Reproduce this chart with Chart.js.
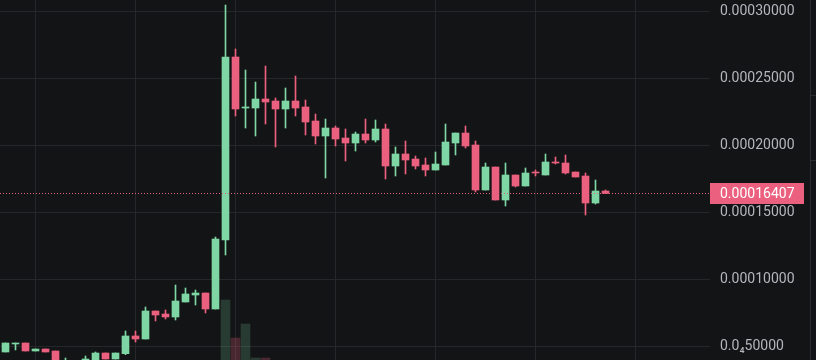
<!DOCTYPE html>
<html>
<head>
<meta charset="utf-8">
<script src="https://cdn.jsdelivr.net/npm/chart.js@4.4.1/dist/chart.umd.min.js"></script>
<style>
  html, body { margin: 0; padding: 0; background: #131416; }
  #wrap { width: 816px; height: 360px; position: relative; }
</style>
</head>
<body>
<div id="wrap"><canvas id="c" width="816" height="360"></canvas></div>
<script>
// Candle index (time slots)
const categories = [0,1,2,3,4,5,6,7,8,9,10,11,12,13,14,15,16,17,18,19,20,21,22,23,24,25,26,27,28,29,30,31,32,33,34,35,36,37,38,39,40,41,42,43,44,45,46,47,48,49,50,51,52,53,54,55,56,57,58,59,60];

const opens  = [45.75e-6,51.72e-6,52.46e-6,46.49e-6,47.98e-6,46.49e-6,32.3e-6,33.0e-6,37.0e-6,36.5e-6,45.00e-6,40.52e-6,44.48e-6,57.70e-6,55.45e-6,76.34e-6,74.10e-6,71.87e-6,83.06e-6,88.28e-6,89.77e-6,77.84e-6,129.33e-6,265.89e-6,227.83e-6,227.83e-6,234.55e-6,233.06e-6,227.09e-6,233.06e-6,228.60e-6,218.13e-6,206.94e-6,212.91e-6,205.44e-6,201.71e-6,208.43e-6,203.95e-6,212.16e-6,184.55e-6,193.50e-6,189.77e-6,185.30e-6,181.56e-6,185.30e-6,201.71e-6,209.17e-6,200.22e-6,166.64e-6,183.80e-6,159.18e-6,177.83e-6,169.62e-6,180.07e-6,177.83e-6,187.53e-6,186.79e-6,180.07e-6,177.09e-6,156.94e-6,165.89e-6];
const highs  = [52.46e-6,52.46e-6,52.46e-6,47.98e-6,47.98e-6,46.49e-6,41.26e-6,38.5e-6,42.76e-6,45.75e-6,45.00e-6,45.00e-6,61.42e-6,61.42e-6,79.33e-6,76.34e-6,77.09e-6,95.74e-6,93.51e-6,92.01e-6,89.77e-6,131.57e-6,304.70e-6,271.86e-6,256.19e-6,247.24e-6,259.18e-6,235.30e-6,242.76e-6,251.71e-6,233.80e-6,223.36e-6,219.62e-6,214.40e-6,212.16e-6,209.92e-6,219.62e-6,218.88e-6,215.89e-6,198.73e-6,203.21e-6,192.01e-6,190.52e-6,194.99e-6,215.89e-6,209.17e-6,214.40e-6,203.21e-6,186.79e-6,183.80e-6,186.79e-6,177.83e-6,183.06e-6,181.56e-6,193.50e-6,191.26e-6,192.76e-6,180.07e-6,179.33e-6,174.10e-6,166.64e-6];
const lows   = [45.75e-6,47.24e-6,46.49e-6,46.49e-6,45.75e-6,34.5e-6,31.5e-6,32.0e-6,36.0e-6,36.0e-6,40.52e-6,40.52e-6,43.74e-6,53.22e-6,55.45e-6,68.88e-6,70.37e-6,69.63e-6,83.06e-6,80.82e-6,74.85e-6,77.84e-6,118.13e-6,221.86e-6,212.91e-6,206.94e-6,215.89e-6,198.73e-6,212.91e-6,221.86e-6,207.68e-6,200.97e-6,175.59e-6,199.48e-6,188.28e-6,195.74e-6,201.71e-6,202.46e-6,174.85e-6,177.09e-6,178.58e-6,182.31e-6,177.09e-6,181.56e-6,185.30e-6,192.76e-6,197.98e-6,165.15e-6,166.64e-6,159.18e-6,154.70e-6,168.88e-6,169.62e-6,177.09e-6,177.83e-6,186.04e-6,178.58e-6,176.34e-6,147.98e-6,156.19e-6,164.07e-6];
const closes = [52.46e-6,52.46e-6,46.49e-6,47.98e-6,45.75e-6,35.3e-6,38.28e-6,37.5e-6,40.52e-6,45.00e-6,40.52e-6,45.00e-6,57.70e-6,55.45e-6,76.34e-6,73.36e-6,71.87e-6,83.80e-6,89.03e-6,89.77e-6,77.84e-6,130.07e-6,265.89e-6,227.09e-6,228.60e-6,234.55e-6,232.31e-6,227.09e-6,233.06e-6,227.83e-6,217.38e-6,206.94e-6,212.91e-6,204.70e-6,201.71e-6,208.43e-6,203.95e-6,212.16e-6,184.55e-6,193.50e-6,189.03e-6,184.55e-6,181.56e-6,186.04e-6,202.46e-6,209.17e-6,199.48e-6,166.64e-6,183.80e-6,159.18e-6,177.83e-6,169.62e-6,179.33e-6,179.33e-6,187.53e-6,186.79e-6,179.33e-6,176.34e-6,156.94e-6,165.89e-6,164.07e-6];
// Volume (relative units), only the visible bars
const volumes = [null,null,null,null,null,null,null,null,null,null,null,null,null,null,null,null,null,null,null,null,null,null,6.0,2.2,3.6,0.2,0.2,null,null,null,null,null,null,null,null,null,null,null,null,null,null,null,null,null,null,null,null,null,null,null,null,null,null,null,null,null,null,null,null,null,null];

const priceTicks = [0.00005, 0.0001, 0.00015, 0.0002, 0.00025, 0.0003];
const priceTickLabels = ['0.0\u208450000', '0.00010000', '0.00015000', '0.00020000', '0.00025000', '0.00030000'];
const timeGridTicks = [3, 13, 23, 33, 43, 53, 63];
const lastPrice = closes[closes.length - 1];
const lastPriceLabel = '0.00016407';

const UP = '#7dd6a3', DOWN = '#eb607e';
const UP_VOL = 'rgba(125,214,163,0.2)', DOWN_VOL = 'rgba(235,96,126,0.25)';
const BG = '#131416', GRID = '#25272b', TXT = '#b4b6bc';
const FONT = 'Roboto, "Liberation Sans", sans-serif';

const isUp = categories.map((c, i) => closes[i] >= opens[i]);

const bgPlugin = {
  id: 'bg',
  beforeDraw(chart) {
    const ctx = chart.ctx;
    ctx.save();
    ctx.fillStyle = BG;
    ctx.fillRect(0, 0, chart.width, chart.height);
    ctx.restore();
  }
};

const pricePlugin = {
  id: 'priceLine',
  afterDatasetsDraw(chart) {
    const ctx = chart.ctx, a = chart.chartArea;
    const y = Math.round(chart.scales.y.getPixelForValue(lastPrice)) + 0.5;
    ctx.save();
    ctx.strokeStyle = DOWN;
    ctx.lineWidth = 1;
    ctx.setLineDash([1, 2]);
    ctx.beginPath();
    ctx.moveTo(a.left, y);
    ctx.lineTo(a.right, y);
    ctx.stroke();
    ctx.restore();
  },
  afterDraw(chart) {
    const ctx = chart.ctx, a = chart.chartArea;
    const y = chart.scales.y.getPixelForValue(lastPrice);
    ctx.save();
    ctx.fillStyle = DOWN;
    ctx.fillRect(a.right, Math.round(y) - 10, 94, 21);
    ctx.fillStyle = '#ffffff';
    ctx.font = '14px ' + FONT;
    ctx.textBaseline = 'middle';
    ctx.textAlign = 'left';
    ctx.fillText(lastPriceLabel, a.right + 10, Math.round(y) + 1);
    ctx.strokeStyle = '#2a2c30';
    ctx.lineWidth = 1;
    ctx.beginPath();
    ctx.moveTo(810.5, 0); ctx.lineTo(810.5, chart.height);
    ctx.moveTo(810, 95.5); ctx.lineTo(816, 95.5);
    ctx.moveTo(810, 160.5); ctx.lineTo(816, 160.5);
    ctx.stroke();
    ctx.restore();
  }
};

function zeroPad(scale) {
  scale.paddingTop = 0; scale.paddingBottom = 0;
  scale.paddingLeft = 0; scale.paddingRight = 0;
}

new Chart(document.getElementById('c'), {
  type: 'bar',
  data: {
    datasets: [
      {
        label: 'Volume',
        yAxisID: 'yv',
        data: categories.map((c, i) => ({ x: c, y: volumes[i] })),
        backgroundColor: categories.map((c, i) => isUp[i] ? UP_VOL : DOWN_VOL),
        barThickness: 9,
        grouped: false,
        order: 3
      },
      {
        label: 'Wick',
        yAxisID: 'y',
        data: categories.map((c, i) => ({ x: c, y: [lows[i], highs[i]] })),
        backgroundColor: categories.map((c, i) => isUp[i] ? UP : DOWN),
        barThickness: 1,
        grouped: false,
        order: 2
      },
      {
        label: 'Body',
        yAxisID: 'y',
        data: categories.map((c, i) => ({ x: c, y: [opens[i], closes[i]] })),
        backgroundColor: categories.map((c, i) => isUp[i] ? UP : DOWN),
        barThickness: 7,
        grouped: false,
        order: 1
      }
    ]
  },
  options: {
    responsive: false,
    animation: false,
    devicePixelRatio: 1,
    layout: { padding: 0 },
    plugins: { legend: { display: false }, tooltip: { enabled: false } },
    scales: {
      x: {
        type: 'linear',
        min: -0.55,
        max: 70.45,
        offset: false,
        afterBuildTicks(scale) {
          scale.ticks = timeGridTicks.map(v => ({ value: v }));
        },
        afterFit(scale) { scale.height = 0; zeroPad(scale); },
        ticks: { display: false },
        grid: { color: GRID, drawTicks: false, lineWidth: 1, offset: false },
        border: { display: false }
      },
      y: {
        type: 'linear',
        position: 'right',
        min: 0.000039776,
        max: 0.000308433,
        afterBuildTicks(scale) {
          scale.ticks = priceTicks.map(v => ({ value: v }));
        },
        afterFit(scale) { scale.width = 106; zeroPad(scale); },
        ticks: {
          color: TXT,
          font: { family: FONT, size: 14 },
          padding: 10,
          callback: (v) => {
            const i = priceTicks.findIndex(t => Math.abs(t - v) < 1e-12);
            return i >= 0 ? priceTickLabels[i] : '';
          }
        },
        grid: { color: GRID, drawTicks: false, lineWidth: 1 },
        border: { display: false }
      },
      yv: {
        type: 'linear',
        display: false,
        min: 0,
        max: 36
      }
    }
  },
  plugins: [bgPlugin, pricePlugin]
});
</script>
</body>
</html>
